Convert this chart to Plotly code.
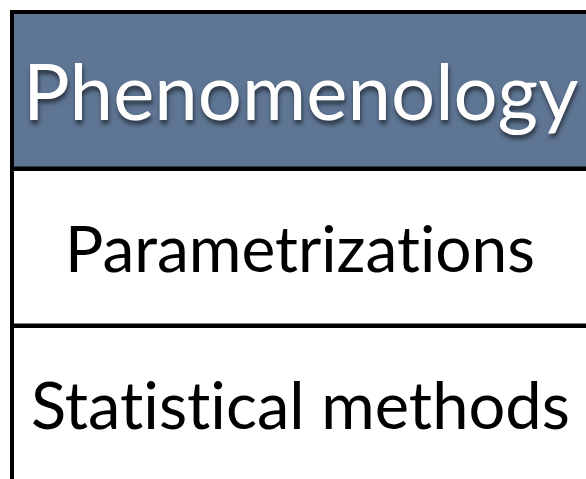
import plotly.graph_objects as go

# rows of the table, top to bottom
rows = ["Phenomenology", "Parametrizations", "Statistical methods"]
row_fill = ["#5e7593", "#ffffff", "#ffffff"]
text_color = ["#ffffff", "#000000", "#000000"]
text_size = [78, 64, 65]
text_shadow = ["1px 4px 4px rgba(0,0,0,0.55)", "none", "none"]
row_span = [1.1, 1.1, 1.1]  # rows run past the right edge of the picture

# Lato would merge "ti" into a ligature, a zero-width non-joiner keeps them apart
labels = [r.replace("ti", "t\u200ci") for r in rows]

fig = go.Figure()

# cells as bars; the black plot background shows through the gaps as the rules
fig.add_trace(
    go.Bar(
        x=row_span,
        y=rows,
        orientation="h",
        marker=dict(color=row_fill, line=dict(width=0)),
        hoverinfo="skip",
        showlegend=False,
    )
)

# cell texts
for row, label, color, size, shadow in zip(rows, labels, text_color, text_size, text_shadow):
    fig.add_annotation(
        x=0.5,
        y=row,
        text=label,
        showarrow=False,
        font=dict(
            family="Gill Sans, Lato, sans-serif",
            size=size,
            color=color,
            shadow=shadow,
        ),
    )

fig.update_layout(
    width=586,
    height=479,
    margin=dict(l=10, r=0, t=10, b=0),
    paper_bgcolor="white",
    plot_bgcolor="black",
    bargap=0.0287,
    xaxis=dict(range=[-0.007, 1], visible=False, fixedrange=True),
    yaxis=dict(
        range=[2.4761, -0.5111],
        visible=False,
        fixedrange=True,
        categoryorder="array",
        categoryarray=rows,
    ),
)

# drop the browser's default body margin so the figure sits at the window corner
fig.write_html(
    "out.html",
    config={"displayModeBar": False},
    post_script="document.body.style.margin='0';document.body.style.overflow='hidden';",
)
